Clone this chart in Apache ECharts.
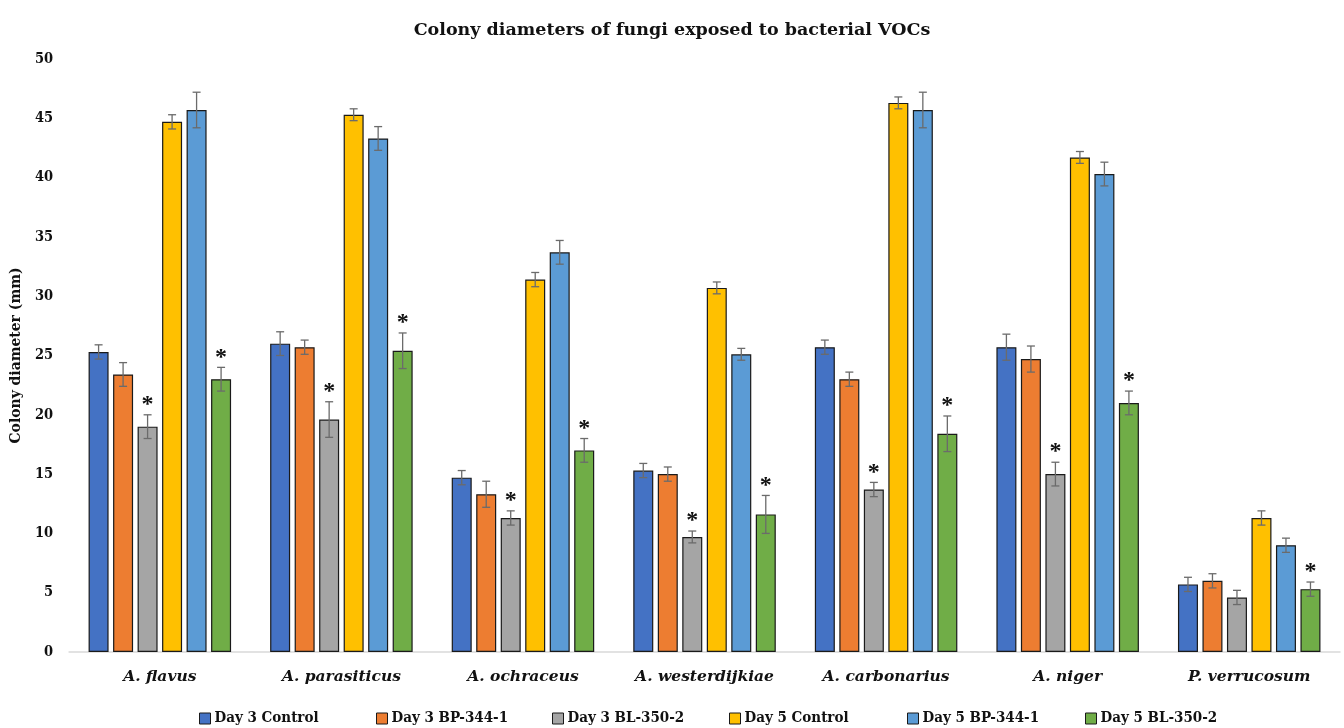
<!DOCTYPE html>
<html><head><meta charset="utf-8">
<script src="https://cdn.jsdelivr.net/npm/echarts@6/dist/echarts.min.js"></script>
<style>html,body{margin:0;padding:0;background:#fff}#c{width:1344px;height:728px}</style>
</head><body><div id="c"></div>
<script>
var categories = ['A. flavus','A. parasiticus','A. ochraceus','A. westerdijkiae','A. carbonarius','A. niger','P. verrucosum'];
var seriesNames = ['Day 3 Control','Day 3 BP-344-1','Day 3 BL-350-2','Day 5 Control','Day 5 BP-344-1','Day 5 BL-350-2'];
var day3Control = [25.3, 26.0, 14.7, 15.3, 25.7, 25.7, 5.7];
var day3BP = [23.4, 25.7, 13.3, 15.0, 23.0, 24.7, 6.0];
var day3BL = [19.0, 19.6, 11.3, 9.7, 13.7, 15.0, 4.6];
var day5Control = [44.7, 45.3, 31.4, 30.7, 46.3, 41.7, 11.3];
var day5BP = [45.7, 43.3, 33.7, 25.1, 45.7, 40.3, 9.0];
var day5BL = [23.0, 25.4, 17.0, 11.6, 18.4, 21.0, 5.3];
var err3Control = [0.6, 1.0, 0.6, 0.6, 0.6, 1.1, 0.6];
var err3BP = [1.0, 0.6, 1.1, 0.6, 0.6, 1.1, 0.6];
var err3BL = [1.0, 1.5, 0.6, 0.5, 0.6, 1.0, 0.6];
var err5Control = [0.6, 0.5, 0.6, 0.5, 0.5, 0.5, 0.6];
var err5BP = [1.5, 1.0, 1.0, 0.5, 1.5, 1.0, 0.6];
var err5BL = [1.0, 1.5, 1.0, 1.6, 1.5, 1.0, 0.6];
var star3BL = [1, 1, 1, 1, 1, 1, 0];
var star5BL = [1, 1, 1, 1, 1, 1, 1];
var yTicks = [0, 5, 10, 15, 20, 25, 30, 35, 40, 45, 50];

var values = [day3Control, day3BP, day3BL, day5Control, day5BP, day5BL];
var errors = [err3Control, err3BP, err3BL, err5Control, err5BP, err5BL];
var stars = [null, null, star3BL, null, null, star5BL];
var colors = ['#4472C4','#ED7D31','#A5A5A5','#FFC000','#5B9BD5','#70AD47'];
var FONT = '"DejaVu Serif Condensed", "DejaVu Serif", serif';
var FONTW = '"DejaVu Serif", serif';
var BW = 20, GAP = 4.5;

var series = [];
values.forEach(function(v, i){
  series.push({
    name: seriesNames[i], type: 'bar', data: v, barWidth: BW, barGap: (GAP/BW*100)+'%',
    itemStyle: {color: colors[i], borderColor: '#1a1a1a', borderWidth: 1.2},
    emphasis: {disabled: true}, z: 2
  });
});
values.forEach(function(v, i){
  var data = v.map(function(val, k){ return [k, val, errors[i][k], stars[i] ? stars[i][k] : 0]; });
  var offset = -(6*BW + 5*GAP)/2 + BW/2 + i*(BW+GAP);
  series.push({
    type: 'custom', z: 5, silent: true,
    encode: {x: 0, y: 1},
    data: data,
    renderItem: function(params, api){
      var k = api.value(0), val = api.value(1), e = api.value(2), s = api.value(3);
      var top = api.coord([k, val + e]);
      var bot = api.coord([k, val - e]);
      var x = top[0] + offset;
      var cw = 4;
      var st = {stroke: '#6b6b6b', lineWidth: 1.3};
      var ch = [
        {type:'line', shape:{x1:x, y1:top[1], x2:x, y2:bot[1]}, style:st},
        {type:'line', shape:{x1:x-cw, y1:top[1], x2:x+cw, y2:top[1]}, style:st},
        {type:'line', shape:{x1:x-cw, y1:bot[1], x2:x+cw, y2:bot[1]}, style:st}
      ];
      if (s) {
        ch.push({type:'text', style:{text:'*', x:x, y:top[1]+2, align:'center', verticalAlign:'bottom',
          font:'bold 24px "Liberation Serif"', fill:'#111'}});
      }
      return {type:'group', children: ch};
    }
  });
});

var legendLefts = [199, 376, 552, 729, 907, 1085];
var legends = seriesNames.map(function(n, i){
  return {data:[n], left: legendLefts[i], top: 711, padding: 0, itemWidth: 11, itemHeight: 11, itemGap: 0,
    icon: 'rect', selectedMode: false,
    itemStyle: {borderColor: '#1a1a1a', borderWidth: 1},
    textStyle: {fontFamily: FONT, fontSize: 15, fontWeight: 'bold', color: '#111', padding: [0,0,0,-1]}};
});

var chart = echarts.init(document.getElementById('c'));
chart.setOption({
  animation: false,
  title: {text: 'Colony diameters of fungi exposed to bacterial VOCs', left: 'center', top: 16,
    textStyle: {fontFamily: FONTW, fontSize: 17.5, fontWeight: 'bold', color: '#111'}},
  legend: legends,
  grid: {left: 67, right: 4, top: 59, bottom: 76},
  xAxis: {type: 'category', data: categories,
    axisLine: {lineStyle: {color: '#d9d9d9', width: 1.5}}, axisTick: {show: false},
    axisLabel: {interval: 0, hideOverlap: false, fontFamily: FONTW, fontStyle: 'italic', fontWeight: 'bold', fontSize: 15.5, color: '#111', margin: 17}},
  yAxis: {type: 'value', min: 0, max: 50, interval: 5,
    name: 'Colony diameter (mm)', nameLocation: 'middle', nameGap: 45, nameRotate: 90,
    nameTextStyle: {fontFamily: FONT, fontSize: 15.5, fontWeight: 'bold', color: '#111'},
    axisLine: {show: false}, axisTick: {show: false}, splitLine: {show: false},
    axisLabel: {fontFamily: FONT, fontSize: 14.5, fontWeight: 'bold', color: '#111', margin: 16,
      formatter: function(v){ return yTicks.indexOf(v) >= 0 ? String(v) : ''; }}},
  series: series
});
</script></body></html>
